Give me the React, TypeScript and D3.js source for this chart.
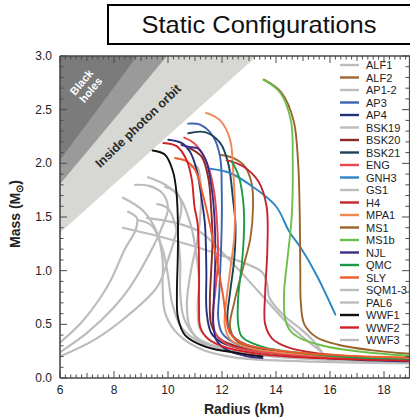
import React from 'react';
import * as d3 from 'd3';

type P = [number, number];

// ---------- data (Radius km, Mass Msun) ----------
const xTickLabels = [6, 8, 10, 12, 14, 16, 18];
const yTickLabels = [0, 0.5, 1, 1.5, 2, 2.5, 3];

const ALF1: P[][] = [[[9.22,1.49],[10.2,1.45],[11.19,1.36],[12.2,1.12],[13.3,0.82],[14.5,0.49],[15.1,0.36],[15.7,0.24]]];
const ALF2: P[][] = [[[11.93,2.08],[12.41,2.05],[12.85,1.97],[13.1,1.81],[13.15,1.6],[13.05,1.3],[12.75,1.0],[12.45,0.7],[12.3,0.47],[12.6,0.33],[13.5,0.26],[15,0.21],[17,0.18],[19,0.16]]];
const AP12: P[][] = [
  [[8.33,1.68],[9.07,1.56],[9.6,1.35],[9.8,1.1],[9.8,0.85],[9.9,0.6],[10.4,0.4],[11.3,0.26],[12.5,0.19],[14.5,0.16],[19,0.135]],
  [[9.26,1.87],[9.9,1.8],[10.44,1.68],[10.85,1.42],[11.05,1.15],[11.15,0.9],[11.1,0.65],[11.2,0.45],[11.8,0.32],[13,0.24],[15,0.19],[17,0.165],[19,0.15]],
];
const AP3: P[][] = [[[10.75,2.37],[11.19,2.36],[11.67,2.25],[11.93,2.06],[11.99,1.75],[11.99,1.43],[11.95,1.1],[11.9,0.8],[11.86,0.56],[12.0,0.42],[12.6,0.31],[14,0.24],[16,0.195],[19,0.165]]];
const AP4: P[][] = [[[10.01,2.22],[10.5,2.19],[10.81,2.11],[11.06,1.94],[11.25,1.66],[11.37,1.43],[11.42,1.0],[11.43,0.62],[11.6,0.42],[12.0,0.33],[13,0.26],[15,0.2],[17,0.17],[19,0.155]]];
const BSK19: P[][] = [[[10.85,1.97],[11.07,1.97],[11.2,1.85],[11.22,1.6],[11.1,1.3],[10.85,1.0],[10.7,0.7],[10.8,0.48],[11.2,0.34],[12.2,0.26],[14,0.2],[16.5,0.17],[19,0.155]]];
const BSK20: P[][] = [[[10.81,2.14],[11.25,2.06],[11.5,1.85],[11.6,1.57],[11.65,1.3],[11.6,1.0],[11.55,0.7],[11.6,0.5],[11.9,0.37],[12.6,0.29],[14,0.23],[16,0.19],[19,0.165]]];
const BSK21: P[][] = [[[10.75,2.28],[11.37,2.29],[11.93,2.19],[12.23,2.0],[12.41,1.66],[12.5,1.43],[12.45,1.1],[12.3,0.8],[12.2,0.56],[12.3,0.42],[12.9,0.31],[14,0.25],[16,0.2],[19,0.17]]];
const ENG: P[][] = [[[10.6,2.24],[11.0,2.18],[11.45,2.0],[11.7,1.75],[11.82,1.43],[11.85,1.1],[11.75,0.8],[11.65,0.55],[11.8,0.4],[12.3,0.3],[13.5,0.24],[15.5,0.2],[19,0.17]]];
const GNH3: P[][] = [[[11.56,1.95],[12.3,1.91],[13.15,1.78],[14.0,1.6],[14.5,1.36],[14.9,1.22],[15.5,0.96],[16.2,0.59]]];
const GS1: P[][] = [[[8.33,1.4],[9.96,1.3],[11.67,1.17],[13.47,0.99],[13.67,0.88],[13.75,0.75],[14.3,0.58],[14.9,0.46],[15.4,0.34],[15.75,0.22]]];
const H4: P[][] = [[[12.17,2.03],[12.79,1.97],[13.35,1.83],[13.65,1.6],[13.68,1.2],[13.6,0.8],[13.6,0.5],[13.85,0.37],[14.4,0.29],[15.5,0.23],[17,0.2],[19,0.175]]];
const MPA1: P[][] = [[[11.41,2.47],[11.93,2.4],[12.3,2.22],[12.41,1.94],[12.48,1.57],[12.45,1.3],[12.3,1.0],[12.15,0.7],[12.1,0.5],[12.3,0.36],[13,0.28],[14.5,0.23],[16.5,0.2],[19,0.18]]];
const MS1: P[][] = [[[13.56,2.78],[14.2,2.66],[14.65,2.4],[14.82,2.0],[14.88,1.5],[14.9,1.0],[14.92,0.7],[15.05,0.5],[15.5,0.38],[16.3,0.31],[17.5,0.26],[19,0.225]]];
const MS1b: P[][] = [[[13.53,2.78],[14.15,2.66],[14.55,2.4],[14.62,2.0],[14.58,1.5],[14.42,1.1],[14.3,0.8],[14.33,0.57],[14.5,0.45],[14.9,0.37],[15.6,0.31],[16.5,0.265],[17.7,0.23],[19,0.205]]];
const NJL: P[][] = [[[10.5,2.17],[10.85,2.15],[11.1,2.14],[11.4,2.03],[11.6,1.8],[11.72,1.5],[11.75,1.1],[11.7,0.75],[11.68,0.5],[11.8,0.35],[12.2,0.26],[12.8,0.21],[13.5,0.185]]];
const QMC: P[][] = [[[12.36,2.02],[12.62,1.88],[12.78,1.66],[12.82,1.43],[12.75,1.1],[12.6,0.75],[12.6,0.5],[12.75,0.38],[13.5,0.29],[15,0.23],[17,0.19],[19,0.17]]];
const SLY: P[][] = [[[10.26,2.05],[10.69,2.02],[11.0,1.94],[11.3,1.7],[11.55,1.43],[11.8,1.1],[12.05,0.75],[12.15,0.55],[12.3,0.42],[12.8,0.32],[14,0.26],[16,0.215],[19,0.19]]];
const SQM13: P[][] = [
  [[6,0.33],[6.8,0.52],[7.5,0.75],[7.9,0.92],[8.4,1.2],[8.8,1.38],[8.85,1.49],[8.52,1.55]],
  [[6,0.24],[7,0.42],[8,0.66],[8.6,0.85],[9.3,1.15],[9.8,1.42],[10.0,1.58],[9.8,1.72],[9.3,1.79],[8.78,1.8]],
  [[6,0.2],[7.3,0.36],[8.5,0.58],[9.6,0.85],[10.0,1.1],[10.35,1.4],[10.5,1.6],[10.35,1.72],[9.9,1.78]],
];
const PAL6: P[][] = [[[8.9,1.47],[9.4,1.42],[9.8,1.2],[10.0,0.95],[10.15,0.7],[10.5,0.47],[11.3,0.32],[12.5,0.24],[14.5,0.19],[17,0.16],[19,0.15]]];
const WWF1: P[][] = [[[9.43,2.12],[9.89,2.08],[10.19,1.92],[10.32,1.71],[10.37,1.4],[10.36,1.1],[10.33,0.8],[10.37,0.56],[10.63,0.4],[11.4,0.29],[12.67,0.23],[13.5,0.2]]];
const WWF2: P[][] = [[[9.83,2.19],[10.32,2.16],[10.69,2.03],[10.88,1.85],[10.98,1.6],[11.1,1.43],[11.15,1.0],[11.15,0.65],[11.2,0.47],[11.5,0.36],[12.2,0.28],[13.5,0.22],[15.5,0.185],[19,0.16]]];
const WWF3: P[][] = [[[9.6,1.62],[10.0,1.58],[10.3,1.4],[10.45,1.1],[10.45,0.8],[10.6,0.55],[11.1,0.37],[12.2,0.27],[14,0.21],[16,0.18],[19,0.16]]];

const legendNames = ['ALF1','ALF2','AP1-2','AP3','AP4','BSK19','BSK20','BSK21','ENG','GNH3','GS1','H4','MPA1','MS1','MS1b','NJL','QMC','SLY','SQM1-3','PAL6','WWF1','WWF2','WWF3'];
const seriesData: P[][][] = [ALF1,ALF2,AP12,AP3,AP4,BSK19,BSK20,BSK21,ENG,GNH3,GS1,H4,MPA1,MS1,MS1b,NJL,QMC,SLY,SQM13,PAL6,WWF1,WWF2,WWF3];

// region slopes (km per Msun)
const bhSlope = 2.953;
const buchdahlSlope = 3.32;
const photonSlope = 4.43;

// ---------- styles ----------
const GRAY = '#bcbcbc';
const colors: Record<string, string> = {
  'ALF1': GRAY, 'ALF2': '#9e6630', 'AP1-2': GRAY, 'AP3': '#3c64ae', 'AP4': '#23307a',
  'BSK19': GRAY, 'BSK20': '#8e2a25', 'BSK21': '#1c4257', 'ENG': '#e8474e', 'GNH3': '#2c86c6',
  'GS1': GRAY, 'H4': '#c3262e', 'MPA1': '#f08652', 'MS1': '#9a632a', 'MS1b': '#6cbf4a',
  'NJL': '#3c2a85', 'QMC': '#1c9a4a', 'SLY': '#f05a2a', 'SQM1-3': GRAY, 'PAL6': GRAY,
  'WWF1': '#111111', 'WWF2': '#d21f26', 'WWF3': GRAY,
};

const W = 410, H = 419;
const X0 = 60, X1 = 411, Y0 = 378, Y1 = 56;
const FONT = "'Liberation Sans', Arial, sans-serif";
const AX = '#4a4a4a';

export default function App() {
  const x = d3.scaleLinear().domain([6, 19]).range([X0, X1]);
  const y = d3.scaleLinear().domain([0, 3]).range([Y0, Y1]);
  const line = d3.line<P>().x(d => x(d[0])).y(d => y(d[1])).curve(d3.curveCatmullRom.alpha(0.5));

  const region = (slope: number) => {
    const pts: P[] = [[6, 3], [3 * slope, 3], [6, 6 / slope]];
    return pts.map(p => `${x(p[0])},${y(p[1])}`).join(' ');
  };

  const order = legendNames.map((n, i) => i);
  const grayIdx = order.filter(i => colors[legendNames[i]] === GRAY);
  const colIdx = order.filter(i => colors[legendNames[i]] !== GRAY);

  const xMinor = d3.range(6, 19.001, 0.2);
  const yMinor = d3.range(0, 3.001, 0.1);

  const xt = (v: number) => {
    const r = Math.round(v * 10) / 10;
    if (Math.abs(r % 2) < 1e-6) return 7;
    if (Math.abs(r % 1) < 1e-6) return 5;
    return 3.5;
  };
  const yt = (v: number) => {
    const r = Math.round(v * 10);
    if (r % 5 === 0) return 7;
    return 3.5;
  };

  const legendY0 = 65, legendDY = 12.5;

  return (
    <svg width={W} height={H} style={{ position: 'absolute', left: 0, top: 0, background: '#fff' }}>
      <defs>
        <clipPath id="plot">
          <rect x={X0} y={Y1} width={X1 - X0} height={Y0 - Y1} />
        </clipPath>
      </defs>
      <rect x={0} y={0} width={W} height={H} fill="#fff" />
      <g clipPath="url(#plot)">
        <polygon points={region(photonSlope)} fill="#d7d7d3" />
        <polygon points={region(buchdahlSlope)} fill="#9a9a9a" />
        <polygon points={region(bhSlope)} fill="#7b7b7b" />
        <text transform={`translate(86,86) rotate(-50)`} textAnchor="middle" fontFamily={FONT} fontWeight="bold" fontSize={11} fill="#fff">
          <tspan x={0} dy={-2}>Black</tspan>
          <tspan x={0} dy={12}>holes</tspan>
        </text>
        <text transform={`translate(141,129) rotate(-44)`} textAnchor="middle" fontFamily={FONT} fontWeight="bold" fontSize={12.5} fill="#2a2a2a">Inside photon orbit</text>
        {grayIdx.map(i => seriesData[i].map((c, j) => (
          <path key={`g${i}-${j}`} d={line(c) || ''} fill="none" stroke={GRAY} strokeWidth={2.2} strokeLinecap="round" />
        )))}
        {colIdx.map(i => seriesData[i].map((c, j) => (
          <path key={`c${i}-${j}`} d={line(c) || ''} fill="none" stroke={colors[legendNames[i]]} strokeWidth={1.9} strokeLinecap="round" />
        )))}
      </g>

      {/* axes */}
      <g stroke={AX} strokeWidth={1}>
        {xMinor.map((v, i) => (
          <g key={`xm${i}`}>
            <line x1={x(v)} x2={x(v)} y1={Y0} y2={Y0 - xt(v)} />
            <line x1={x(v)} x2={x(v)} y1={Y1} y2={Y1 + xt(v)} />
          </g>
        ))}
        {yMinor.map((v, i) => (
          <g key={`ym${i}`}>
            <line x1={X0} x2={X0 + yt(v)} y1={y(v)} y2={y(v)} />
            <line x1={409} x2={409 - yt(v)} y1={y(v)} y2={y(v)} />
          </g>
        ))}
      </g>
      <line x1={X0} x2={410} y1={Y0} y2={Y0} stroke={AX} strokeWidth={1.6} />
      <line x1={X0} x2={410} y1={Y1} y2={Y1} stroke={AX} strokeWidth={1.6} />
      <line x1={X0} x2={X0} y1={Y1} y2={Y0} stroke={AX} strokeWidth={1.6} />
      <line x1={409.5} x2={409.5} y1={Y1} y2={Y0} stroke={AX} strokeWidth={1.2} />

      {xTickLabels.map(v => (
        <text key={`xl${v}`} x={x(v)} y={394} textAnchor="middle" fontFamily={FONT} fontSize={12} fill="#222">{v}</text>
      ))}
      {yTickLabels.map(v => (
        <text key={`yl${v}`} x={52} y={y(v) + 4} textAnchor="end" fontFamily={FONT} fontSize={12} fill="#222">{v.toFixed(1)}</text>
      ))}
      <text x={244} y={414} textAnchor="middle" fontFamily={FONT} fontWeight="bold" fontSize={14} fill="#222">Radius (km)</text>
      <text transform="translate(20,214) rotate(-90)" textAnchor="middle" fontFamily={FONT} fontWeight="bold" fontSize={14} fill="#222">
        Mass (M<tspan fontSize={10} dy={3}>⊙</tspan><tspan dy={-3}>)</tspan>
      </text>

      {/* legend */}
      {legendNames.map((n, i) => (
        <g key={`lg${n}`}>
          <line x1={340} x2={359} y1={legendY0 + i * legendDY} y2={legendY0 + i * legendDY} stroke={colors[n]} strokeWidth={2.4} />
          <text x={366} y={legendY0 + i * legendDY + 4} fontFamily={FONT} fontSize={11} fill="#222">{n}</text>
        </g>
      ))}

      {/* title */}
      <rect x={108} y={5} width={303} height={39} fill="#fff" stroke="#000" strokeWidth={2} />
      <text x={259} y={33} textAnchor="middle" fontFamily={FONT} fontSize={24} fill="#111" textLength={235} lengthAdjust="spacingAndGlyphs">Static Configurations</text>
    </svg>
  );
}
